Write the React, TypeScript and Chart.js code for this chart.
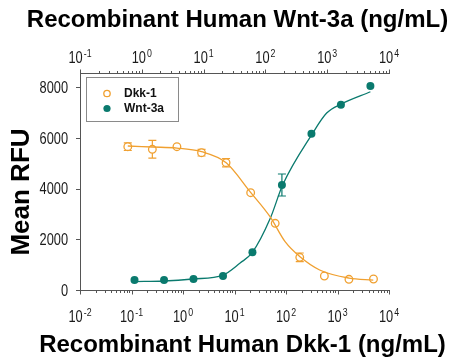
import React, { useEffect, useRef } from "react";
import { Chart, registerables } from "chart.js";

Chart.register(...registerables);

// Dkk-1 (bottom axis) measured points
const dkkConc = [0.0847, 0.254, 0.762, 2.29, 6.86, 20.6, 61.7, 185, 556, 1667, 5000];
const dkkRFU = [5653, 5550, 5653, 5416, 5022, 3838, 2631, 1290, 552, 422, 434];
const dkkErr = [150, 350, 0, 130, 165, 0, 0, 170, 0, 0, 0];

// Wnt-3a (top axis) measured points
const wntConc = [0.762, 2.29, 6.86, 20.6, 61.7, 185, 556, 1667, 5000];
const wntRFU = [394, 394, 434, 552, 1487, 4142, 6166, 7310, 8047];
const wntErr = [0, 0, 0, 0, 0, 434, 0, 0, 0];

// Fitted curves
const dkkFitConc = [0.0847, 0.254, 0.762, 2.29, 6.9, 20, 49, 96, 187, 450, 1670, 4950];
const dkkFitRFU = [5680, 5640, 5600, 5455, 5020, 3880, 2890, 1905, 1310, 790, 470, 390];
const wntFitConc = [0.76, 2.27, 6.7, 20.6, 39, 61, 120, 190, 570, 980, 1700, 5000];
const wntFitRFU = [330, 355, 434, 590, 1065, 1470, 2830, 4140, 6150, 6980, 7340, 7820];

const yTicks = [0, 2000, 4000, 6000, 8000];
const seriesNames = ["Dkk-1", "Wnt-3a"];
const titleTop = "Recombinant Human Wnt-3a (ng/mL)";
const titleBottom = "Recombinant Human Dkk-1 (ng/mL)";
const titleY = "Mean RFU";

const ORANGE = "#F0A030";
const TEAL = "#0A7A6E";
const AXIS = "#555555";
const LABEL = "#1a1a1a";
const SANS = "'Liberation Sans', Arial, sans-serif";
const SQUEEZE = 0.8;

const isPow10 = (v: number) => Math.abs(Math.log10(v) - Math.round(Math.log10(v))) < 1e-6;

// draws text squeezed horizontally to imitate a condensed face
function narrowText(ctx: any, text: string, x: number, y: number, size: number, align: string) {
  ctx.font = `${size}px ${SANS}`;
  const w = ctx.measureText(text).width * SQUEEZE;
  let x0 = x;
  if (align === "right") x0 = x - w;
  else if (align === "center") x0 = x - w / 2;
  ctx.save();
  ctx.translate(x0, y);
  ctx.scale(SQUEEZE, 1);
  ctx.textAlign = "left";
  ctx.textBaseline = "alphabetic";
  ctx.fillText(text, 0, 0);
  ctx.restore();
}
function powerLabel(ctx: any, v: number, cx: number, baseY: number) {
  const e = String(Math.round(Math.log10(v)));
  ctx.font = `16px ${SANS}`;
  const wb = ctx.measureText("10").width * SQUEEZE;
  ctx.font = `11px ${SANS}`;
  const we = ctx.measureText(e).width * SQUEEZE;
  const gap = 1;
  const x0 = cx - (wb + gap + we) / 2;
  narrowText(ctx, "10", x0, baseY, 16, "left");
  narrowText(ctx, e, x0 + wb + gap, baseY - 6, 11, "left");
}

const decorPlugin = {
  id: "decor",
  beforeDatasetsDraw(chart: any) {
    const ctx = chart.ctx;
    ctx.save();
    const drawErr = (dsIndex: number, errs: number[], color: string) => {
      const meta = chart.getDatasetMeta(dsIndex);
      const ys = chart.scales.y;
      meta.data.forEach((pt: any, i: number) => {
        const e = errs[i];
        if (!e) return;
        const v = chart.data.datasets[dsIndex].data[i].y;
        const y1 = ys.getPixelForValue(v + e);
        const y2 = ys.getPixelForValue(v - e);
        ctx.strokeStyle = color;
        ctx.lineWidth = 1.2;
        ctx.beginPath();
        ctx.moveTo(pt.x, y1); ctx.lineTo(pt.x, y2);
        ctx.moveTo(pt.x - 4, y1); ctx.lineTo(pt.x + 4, y1);
        ctx.moveTo(pt.x - 4, y2); ctx.lineTo(pt.x + 4, y2);
        ctx.stroke();
      });
    };
    drawErr(1, dkkErr, ORANGE);
    drawErr(3, wntErr, TEAL);
    ctx.restore();
  },
  afterDraw(chart: any) {
    const ctx = chart.ctx;
    const { left, top, bottom } = chart.chartArea;
    ctx.save();
    ctx.strokeStyle = AXIS;
    ctx.lineWidth = 1;
    ctx.beginPath();
    const logTicks = (scale: any, y: number, dir: number) => {
      const lo = Math.round(Math.log10(scale.min));
      const hi = Math.round(Math.log10(scale.max));
      for (let e = lo; e <= hi; e++) {
        for (let k = 1; k <= 9; k++) {
          const v = k * Math.pow(10, e);
          if (v > scale.max * 1.0001) break;
          const x = Math.round(scale.getPixelForValue(v)) + 0.5;
          ctx.moveTo(x, y);
          ctx.lineTo(x, y + dir * (k === 1 ? 4 : 2.5));
        }
      }
    };
    logTicks(chart.scales.x, Math.round(bottom) + 0.5, 1);
    logTicks(chart.scales.x2, Math.round(top) + 0.5, -1);
    yTicks.forEach((v) => {
      const y = Math.round(chart.scales.y.getPixelForValue(v)) + 0.5;
      ctx.moveTo(left, y);
      ctx.lineTo(left - 4, y);
    });
    ctx.stroke();

    // tick labels
    ctx.fillStyle = LABEL;
    chart.scales.x.ticks.forEach((t: any) => {
      powerLabel(ctx, t.value, chart.scales.x.getPixelForValue(t.value), 321.5);
    });
    chart.scales.x2.ticks.forEach((t: any) => {
      powerLabel(ctx, t.value, chart.scales.x2.getPixelForValue(t.value), 63);
    });
    yTicks.forEach((v) => {
      narrowText(ctx, String(v), 68, chart.scales.y.getPixelForValue(v) + 5.8, 16, "right");
    });

    // legend
    const lx = 86.5, ly = 77.5, lw = 92, lh = 44;
    ctx.strokeStyle = "#8a8a8a";
    ctx.lineWidth = 1;
    ctx.fillStyle = "#ffffff";
    ctx.fillRect(lx, ly, lw, lh);
    ctx.strokeRect(lx, ly, lw, lh);
    ctx.lineWidth = 1.3;
    ctx.beginPath();
    ctx.arc(107, 93.5, 3.2, 0, Math.PI * 2);
    ctx.strokeStyle = ORANGE;
    ctx.stroke();
    ctx.beginPath();
    ctx.arc(107, 108.5, 3.6, 0, Math.PI * 2);
    ctx.fillStyle = TEAL;
    ctx.fill();
    ctx.fillStyle = "#111";
    ctx.font = `bold 12px ${SANS}`;
    ctx.textBaseline = "middle";
    ctx.textAlign = "left";
    ctx.fillText(seriesNames[0], 124, 93.5);
    ctx.fillText(seriesNames[1], 124, 108.5);

    // titles
    ctx.fillStyle = "#000";
    ctx.textAlign = "center";
    ctx.textBaseline = "alphabetic";
    ctx.font = `bold 24px ${SANS}`;
    ctx.fillText(titleTop, 237.5, 27);
    ctx.fillText(titleBottom, 242.5, 352);
    ctx.save();
    ctx.translate(28.5, 192);
    ctx.rotate(-Math.PI / 2);
    ctx.font = `bold 26px ${SANS}`;
    ctx.fillText(titleY, 0, 0);
    ctx.restore();
    ctx.restore();
  },
};

export default function App() {
  const ref = useRef<HTMLCanvasElement>(null);
  useEffect(() => {
    if (!ref.current) return;
    const chart = new Chart(ref.current, {
      type: "scatter",
      data: {
        datasets: [
          {
            label: seriesNames[0] + " fit",
            data: dkkFitConc.map((x, i) => ({ x, y: dkkFitRFU[i] })),
            xAxisID: "x",
            showLine: true,
            borderColor: ORANGE,
            borderWidth: 1.3,
            pointRadius: 0,
            cubicInterpolationMode: "monotone",
          },
          {
            label: seriesNames[0],
            data: dkkConc.map((x, i) => ({ x, y: dkkRFU[i] })),
            xAxisID: "x",
            pointRadius: 3.8,
            pointBorderWidth: 1.3,
            pointBackgroundColor: "#ffffff",
            pointBorderColor: ORANGE,
          },
          {
            label: seriesNames[1] + " fit",
            data: wntFitConc.map((x, i) => ({ x, y: wntFitRFU[i] })),
            xAxisID: "x2",
            showLine: true,
            borderColor: TEAL,
            borderWidth: 1.3,
            pointRadius: 0,
            cubicInterpolationMode: "monotone",
          },
          {
            label: seriesNames[1],
            data: wntConc.map((x, i) => ({ x, y: wntRFU[i] })),
            xAxisID: "x2",
            pointRadius: 4,
            pointBorderWidth: 0,
            pointBackgroundColor: TEAL,
            pointBorderColor: TEAL,
          },
        ],
      },
      options: {
        responsive: false,
        animation: false,
        layout: { padding: { right: 61, left: 0, top: 0, bottom: 0 } },
        plugins: { legend: { display: false }, tooltip: { enabled: false } },
        scales: {
          x: {
            type: "logarithmic",
            position: "bottom",
            min: 0.01,
            max: 10000,
            grid: { display: false },
            border: { display: true, color: AXIS, width: 1 },
            afterBuildTicks: (s: any) => { s.ticks = s.ticks.filter((t: any) => isPow10(t.value)); },
            afterFit: (s: any) => { s.height = 74; },
            ticks: { display: false, autoSkip: false },
          },
          x2: {
            type: "logarithmic",
            position: "top",
            min: 0.1,
            max: 10000,
            grid: { display: false },
            border: { display: true, color: AXIS, width: 1 },
            afterBuildTicks: (s: any) => { s.ticks = s.ticks.filter((t: any) => isPow10(t.value)); },
            afterFit: (s: any) => { s.height = 73; },
            ticks: { display: false, autoSkip: false },
          },
          y: {
            type: "linear",
            min: 0,
            max: 8560,
            grid: { display: false },
            border: { display: true, color: AXIS, width: 1 },
            afterBuildTicks: (s: any) => { s.ticks = yTicks.map((v) => ({ value: v })); },
            afterFit: (s: any) => { s.width = 80; },
            ticks: { display: false },
          },
        },
      },
      plugins: [decorPlugin],
    } as any);
    return () => chart.destroy();
  }, []);
  return (
    <canvas
      ref={ref}
      width={450}
      height={364}
      style={{ position: "absolute", left: 0, top: 0, display: "block", width: 450, height: 364 }}
    />
  );
}
